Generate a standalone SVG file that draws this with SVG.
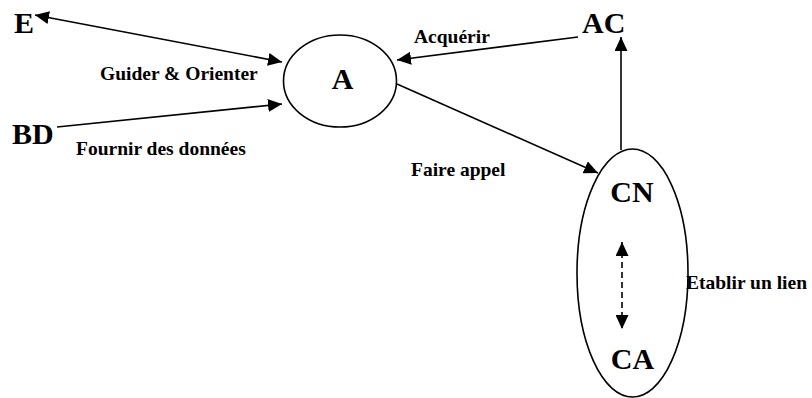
<svg xmlns="http://www.w3.org/2000/svg" width="812" height="398" viewBox="0 0 812 398">
<style>
.big{font-family:"Liberation Serif","Times New Roman",serif;font-weight:bold;font-size:30px;fill:#000}
.lbl{font-family:"Liberation Serif","Times New Roman",serif;font-weight:bold;font-size:19.5px;fill:#000}
.shape{fill:#fff;stroke:#000;stroke-width:1.6}
.conn{fill:none;stroke:#000;stroke-width:1.6}
.dash{stroke-dasharray:6 4}
</style>
<defs>
<marker id="ah" markerUnits="userSpaceOnUse" markerWidth="15" markerHeight="13" refX="14" refY="6.5" orient="auto-start-reverse" viewBox="0 0 15 13">
<path d="M0,0 L14,6.5 L0,13 z" fill="#000"/>
</marker>
</defs>
<g id="node-E"><text class="big" x="14" y="33">E</text></g>
<g id="node-BD"><text class="big" x="12" y="144">BD</text></g>
<g id="node-AC"><text class="big" x="582" y="33">AC</text></g>
<g id="node-A">
<ellipse class="shape" cx="340" cy="81" rx="56.5" ry="46"/>
<text class="big" x="342.5" y="89" text-anchor="middle">A</text>
</g>
<g id="node-CNCA">
<ellipse class="shape" cx="632.5" cy="273" rx="55.5" ry="124"/>
<text class="big" x="632" y="202" text-anchor="middle">CN</text>
<text class="big" x="632.5" y="369" text-anchor="middle">CA</text>
</g>
<g id="connectors">
<line class="conn" x1="35" y1="15" x2="282" y2="62" marker-start="url(#ah)" marker-end="url(#ah)"/>
<line class="conn" x1="57" y1="127" x2="282" y2="104" marker-end="url(#ah)"/>
<line class="conn" x1="578" y1="37" x2="397" y2="60" marker-end="url(#ah)"/>
<line class="conn" x1="397" y1="84" x2="598" y2="173" marker-end="url(#ah)"/>
<line class="conn" x1="621" y1="150" x2="621" y2="37" marker-end="url(#ah)"/>
<line class="conn dash" x1="622" y1="242" x2="622" y2="329" marker-start="url(#ah)" marker-end="url(#ah)"/>
</g>
<g id="labels">
<text class="lbl" x="100" y="80">Guider &amp; Orienter</text>
<text class="lbl" x="76" y="155">Fournir des données</text>
<text class="lbl" x="414" y="43">Acquérir</text>
<text class="lbl" x="411" y="176">Faire appel</text>
<text class="lbl" x="686" y="289">Etablir un lien</text>
</g>
</svg>
